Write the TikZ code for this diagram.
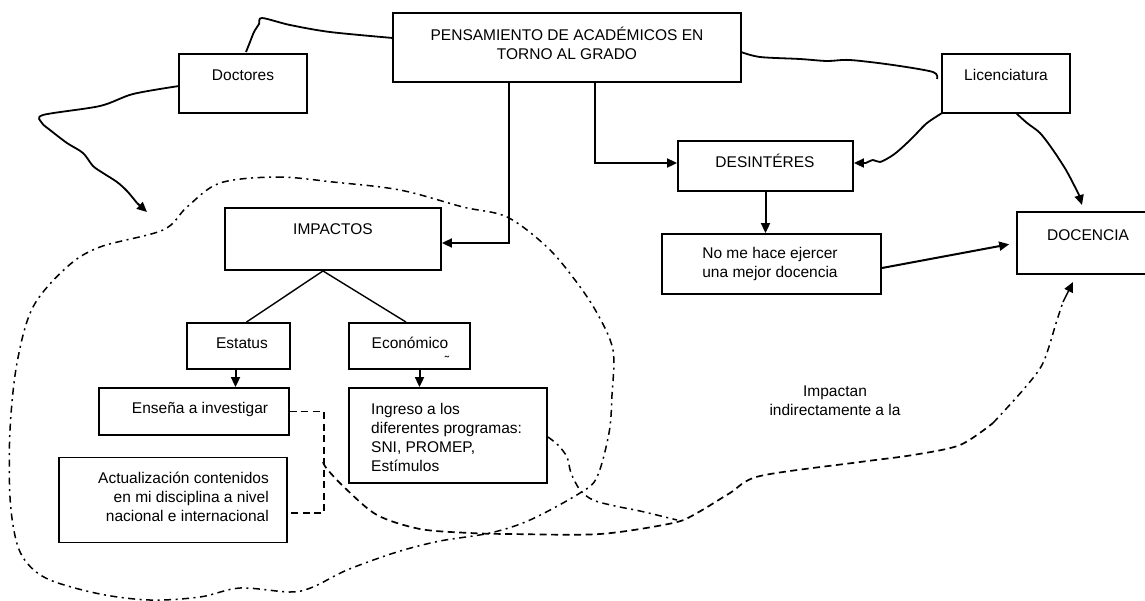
\documentclass[tikz,border=0pt]{standalone}
\usepackage{fontspec}
\setmainfont{Liberation Sans}
\usetikzlibrary{arrows.meta,calc}
\begin{document}
\begin{tikzpicture}[x=1pt,y=-1pt]
\tikzset{
  box/.style={draw, line width=1.9pt, inner sep=0pt},
  txt/.style={font=\fontsize{15.5}{19}\selectfont, inner sep=0pt},
  arr/.style={line width=2pt, -{Triangle[length=10pt,width=9pt]}},
  link/.style={line width=1.4pt},
  wig/.style={line width=1.8pt, line join=round},
  dsh/.style={line width=1.7pt, dash pattern=on 7pt off 4.5pt},
  dshdot/.style={line width=1.5pt, dash pattern=on 7pt off 4.5pt on 2pt off 4.5pt},
}
\useasboundingbox (0,0) rectangle (1145,600);

% boxes
\node[box, minimum width=348, minimum height=69] (pens) at (567,47.5) {};
\node[box, minimum width=128, minimum height=59] (doc) at (243,83.5) {};
\node[box, minimum width=128, minimum height=59] (lic) at (1006,83.5) {};
\node[box, minimum width=175, minimum height=50] (des) at (765.5,166) {};
\node[box, minimum width=219, minimum height=60] (nome) at (771.5,264) {};
\node[box, minimum width=142, minimum height=62] (dcn) at (1088,243) {};
\node[box, minimum width=216, minimum height=62] (imp) at (333,239) {};
\node[box, minimum width=103, minimum height=46] (est) at (238.5,346) {};
\node[box, minimum width=121, minimum height=46] (eco) at (409.5,346) {};
\node[box, minimum width=190, minimum height=47] (ens) at (194,411.5) {};
\node[box, minimum width=228, minimum height=85] (act) at (173,500) {};
\node[box, minimum width=198, minimum height=95] (ing) at (448,435.5) {};

% texts
\node[txt, align=center] (pens-t) at (567,43) {PENSAMIENTO DE ACADÉMICOS EN\\TORNO AL GRADO};
\node[txt] (doc-t) at (243,75) {Doctores};
\node[txt] (lic-t) at (1006,75) {Licenciatura};
\node[txt] (des-t) at (765,161) {DESINTÉRES};
\node[txt, align=center] (nome-t) at (770,264) {No me hace ejercer\\una mejor docencia};
\node[txt] (dcn-t) at (1088,235) {DOCENCIA};
\node[txt] (imp-t) at (333,229) {IMPACTOS};
\node[txt] (est-t) at (242,343) {Estatus};
\node[txt] (eco-t) at (410,343) {Económico};
\node[font=\fontsize{13}{13}\selectfont, inner sep=0pt] (eco-m) at (447,361) {˜};
\node[txt] (ens-t) at (200,409) {Enseña a investigar};
\node[txt, align=right, anchor=east] (act-t) at (269,497) {Actualización contenidos\\en mi disciplina a nivel\\nacional e internacional};
\node[txt, align=left, anchor=west] (ing-t) at (371,437.5) {Ingreso a los\\diferentes programas:\\SNI, PROMEP,\\Estímulos};
\node[txt, align=center] (lbl-t) at (835,401) {Impactan\\indirectamente a la};

% straight connectors
\coordinate (k1) at (509,243);
\coordinate (k2) at (595,163);
\draw[arr] (pens.south -| k1) |- (imp.east |- k1);
\draw[arr] (pens.south -| k2) |- (des.west |- k2);
\draw[arr] (des.south) -- (nome.north -| des.south);
\draw[arr, shorten >=7pt] ([yshift=-4pt]nome.east) -- (dcn.west);
\draw[arr] ([xshift=-3pt]est.south) -- ([xshift=-3pt]est.south |- ens.north);
\draw[arr] ([xshift=10pt]eco.south) -- ([xshift=10pt]eco.south |- ing.north);
\draw[link] ([xshift=-10pt]imp.south) -- ([xshift=8pt]est.north);
\draw[link] ([xshift=-10pt]imp.south) -- ([xshift=-3.5pt]eco.north);

% hand-drawn connectors
\draw[wig] (pens.west |- 0,38) plot[smooth, tension=0.5] coordinates
  {(393,38) (330,32) (290,25) (262,18) (259,24) (254,32) (250,42) (246,52)};
\draw[wig] plot[smooth, tension=0.5] coordinates
  {(741,52) (760,57) (800,59) (827,61) (850,60) (893,65) (933,72) (937,79)};
\coordinate (dtip) at (147,212);
\draw[wig] plot[smooth, tension=0.5] coordinates
  {(179,86) (133,94) (100,106) (43,115) (42,123) (50,130) (67,143) (83,153) (93,166) (103,173) (117,182) (127,191) (137,203)};
\draw[arr] (137,203) -- (dtip);
\draw[wig] plot[smooth, tension=0.5] coordinates
  {(942,113) (927,123) (917,133) (907,143) (897,152) (890,157) (880,162) (873,160) (866,163)};
\draw[arr] (866,163) -- (des.east |- 0,163);
\draw[wig] plot[smooth, tension=0.5] coordinates
  {(1016,113) (1027,123) (1040,133) (1053,150) (1066,170) (1075,187) (1079,195)};
\draw[arr] (1079,195) -- (1082,205);

% dashed bracket and indirect impact path
\draw[dsh] (ens.east) -| ([xshift=34pt]ens.east) |- ([yshift=-13pt]act.east);
\draw[dsh] plot[smooth, tension=0.5] coordinates
  {(323,462) (327,469) (345,488) (377,515) (420,529) (470,533) (510,534) (600,534) (673,523) (697,513) (730,493) (760,476) (860,462) (913,455) (960,445) (993,423)};
\draw[dshdot] plot[smooth, tension=0.5] coordinates
  {(993,423) (1023,390) (1043,363) (1057,320) (1063,302)};
\coordinate (itip) at (1073,282);
\draw[arr, line width=1.5pt] (1063,302) -- (itip);

% dash-dot link from Ingreso
\draw[dshdot] plot[smooth, tension=0.5] coordinates
  {(ing.east |- 0,437) (558,445) (567,457) (571,473) (580,490) (593,500) (615,506) (640,511) (677,520)};

% dash-dot enclosure of the impacts
\draw[dshdot] plot[smooth cycle, tension=0.55] coordinates
  {(220,183) (277,177) (333,182) (400,190) (463,207) (507,217) (547,247) (575,280) (597,313) (613,350) (612,395) (609,433) (597,477) (580,493) (530,520) (490,533) (440,541) (397,552) (347,570) (313,587) (290,592) (240,588) (200,597) (150,600) (100,594) (50,580) (27,563) (16,540) (10,497) (10,430) (17,363) (33,307) (67,267) (100,247) (163,230) (187,207)};
\end{tikzpicture}
\end{document}
